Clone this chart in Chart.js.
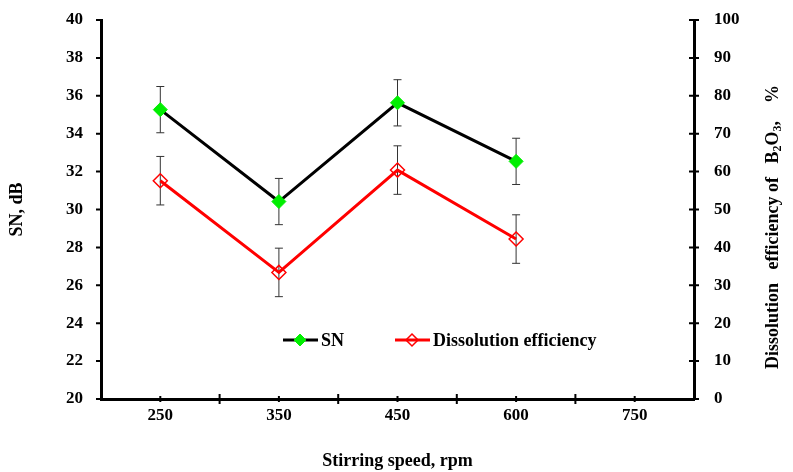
<!DOCTYPE html>
<html>
<head>
<meta charset="utf-8">
<script src="https://cdn.jsdelivr.net/npm/chart.js@4/dist/chart.umd.min.js"></script>
<style>
  html, body { margin: 0; padding: 0; background: #fff; }
  #wrap { width: 793px; height: 472px; }
</style>
</head>
<body>
<div id="wrap"><canvas id="chart"></canvas></div>
<script>
// dados
const speeds = ['250', '350', '450', '600', '750'];
const snValues = [35.27, 30.42, 35.63, 32.54, null];
const snErrors = [1.22, 1.22, 1.22, 1.22, null];
const dissolution = [57.6, 33.4, 60.4, 42.2, null];
const dissolutionErrors = [6.4, 6.4, 6.4, 6.4, null];

const serif = "'Liberation Serif', 'Times New Roman', serif";
const tickFont = { family: serif, size: 17, weight: 'bold' };
const titleFont = { family: serif, size: 18, weight: 'bold' };

// barras de erro, desenhadas antes das linhas
const errorBars = {
    id: 'errorBars',
    beforeDatasetsDraw(chart) {
        const ctx = chart.ctx;
        const x = chart.scales.x;
        const sets = [
            { vals: snValues, errs: snErrors, scale: chart.scales.y },
            { vals: dissolution, errs: dissolutionErrors, scale: chart.scales.y1 }
        ];
        ctx.save();
        ctx.strokeStyle = '#333';
        ctx.lineWidth = 1;
        sets.forEach(s => {
            s.vals.forEach((v, i) => {
                if (v === null) return;
                const px = x.getPixelForValue(i);
                const top = s.scale.getPixelForValue(v + s.errs[i]);
                const bot = s.scale.getPixelForValue(v - s.errs[i]);
                ctx.beginPath();
                ctx.moveTo(px, top); ctx.lineTo(px, bot);
                ctx.moveTo(px - 4, top); ctx.lineTo(px + 4, top);
                ctx.moveTo(px - 4, bot); ctx.lineTo(px + 4, bot);
                ctx.stroke();
            });
        });
        ctx.restore();
    }
};

// marcas dos eixos, titulo da direita e legenda
const extras = {
    id: 'extras',
    afterDraw(chart) {
        const ctx = chart.ctx;
        const area = chart.chartArea;
        const x = chart.scales.x, y = chart.scales.y, y1 = chart.scales.y1;
        ctx.save();
        ctx.strokeStyle = '#000';
        ctx.lineWidth = 2;
        ctx.beginPath();
        y.ticks.forEach(t => {
            const py = y.getPixelForValue(t.value);
            ctx.moveTo(area.left - 5, py); ctx.lineTo(area.left, py);
        });
        y1.ticks.forEach(t => {
            const py = y1.getPixelForValue(t.value);
            ctx.moveTo(area.right - 5, py); ctx.lineTo(area.right + 5, py);
        });
        speeds.forEach((s, i) => {
            const px = x.getPixelForValue(i);
            ctx.moveTo(px, area.bottom - 3); ctx.lineTo(px, area.bottom + 3);
            const bx = px + (x.getPixelForValue(1) - x.getPixelForValue(0)) / 2;
            if (i < speeds.length - 1) {
                ctx.moveTo(bx, area.bottom - 5); ctx.lineTo(bx, area.bottom + 5);
            }
        });
        ctx.stroke();

        // titulo do eixo direito com subscritos
        const parts = [
            ['Dissolution   efficiency of   B', 18, 0],
            ['2', 12, 5],
            ['O', 18, 0],
            ['3', 12, 5],
            [',    %', 18, 0]
        ];
        let total = 0;
        parts.forEach(p => {
            ctx.font = 'bold ' + p[1] + 'px ' + serif;
            total += ctx.measureText(p[0]).width;
        });
        ctx.translate(773, 227);
        ctx.rotate(-Math.PI / 2);
        ctx.fillStyle = '#000';
        ctx.textBaseline = 'middle';
        ctx.textAlign = 'left';
        let cx = -total / 2;
        parts.forEach(p => {
            ctx.font = 'bold ' + p[1] + 'px ' + serif;
            ctx.fillText(p[0], cx, p[2]);
            cx += ctx.measureText(p[0]).width;
        });
        ctx.restore();

        // legenda dentro do grafico
        ctx.save();
        const ly = 340;
        let lx = 283;
        chart.data.datasets.forEach(ds => {
            ctx.strokeStyle = ds.borderColor;
            ctx.lineWidth = 3;
            ctx.beginPath();
            ctx.moveTo(lx, ly); ctx.lineTo(lx + 35, ly);
            ctx.stroke();
            ctx.fillStyle = ds.pointBackgroundColor;
            ctx.strokeStyle = ds.pointBorderColor;
            ctx.lineWidth = ds.pointBorderWidth;
            ctx.beginPath();
            const r = 6;
            ctx.moveTo(lx + 17, ly - r); ctx.lineTo(lx + 17 + r, ly);
            ctx.lineTo(lx + 17, ly + r); ctx.lineTo(lx + 17 - r, ly);
            ctx.closePath();
            ctx.fill(); ctx.stroke();
            ctx.font = 'bold 18px ' + serif;
            ctx.fillStyle = '#000';
            ctx.textBaseline = 'middle';
            ctx.fillText(ds.label, lx + 38, ly + 1);
            lx += 112;
        });
        ctx.restore();
    }
};

new Chart(document.getElementById('chart'), {
    type: 'line',
    data: {
        labels: speeds,
        datasets: [
            {
                label: 'SN',
                data: snValues,
                yAxisID: 'y',
                borderColor: '#000000',
                borderWidth: 3,
                pointStyle: 'rectRot',
                pointRadius: 7,
                pointBackgroundColor: '#00ee00',
                pointBorderColor: '#00ee00',
                pointBorderWidth: 1
            },
            {
                label: 'Dissolution efficiency',
                data: dissolution,
                yAxisID: 'y1',
                borderColor: '#ff0000',
                borderWidth: 3,
                pointStyle: 'rectRot',
                pointRadius: 7,
                pointBackgroundColor: 'rgba(255,255,255,0)',
                pointBorderColor: '#ff0000',
                pointBorderWidth: 1.5
            }
        ]
    },
    options: {
        responsive: true,
        maintainAspectRatio: false,
        animation: false,
        layout: { padding: { top: 20, left: 0, right: 0, bottom: 0 } },
        plugins: { legend: { display: false }, tooltip: { enabled: false } },
        scales: {
            x: {
                offset: true,
                grid: { display: false, drawTicks: false },
                border: { display: true, color: '#000', width: 3 },
                ticks: { font: tickFont, color: '#000', padding: 6 },
                title: {
                    display: true,
                    text: 'Stirring speed, rpm',
                    font: titleFont,
                    color: '#000',
                    padding: { top: 0, bottom: 0 }
                },
                afterFit(s) { s.height = 73; s.paddingLeft = 0; s.paddingRight = 0; }
            },
            y: {
                position: 'left',
                min: 20, max: 40,
                grid: { display: false, drawTicks: false },
                border: { display: true, color: '#000', width: 3 },
                ticks: { stepSize: 2, font: tickFont, color: '#000', padding: 18 },
                title: {
                    display: true,
                    text: 'SN, dB',
                    font: titleFont,
                    color: '#000',
                    padding: { top: 7, bottom: 0 }
                },
                afterFit(s) { s.width = 101; s.paddingTop = 0; s.paddingBottom = 0; }
            },
            y1: {
                position: 'right',
                min: 0, max: 100,
                grid: { display: false, drawTicks: false },
                border: { display: true, color: '#000', width: 3 },
                ticks: { stepSize: 10, font: tickFont, color: '#000', padding: 20 },
                afterFit(s) { s.width = 99; s.paddingTop = 0; s.paddingBottom = 0; }
            }
        }
    },
    plugins: [errorBars, extras]
});
</script>
</body>
</html>
